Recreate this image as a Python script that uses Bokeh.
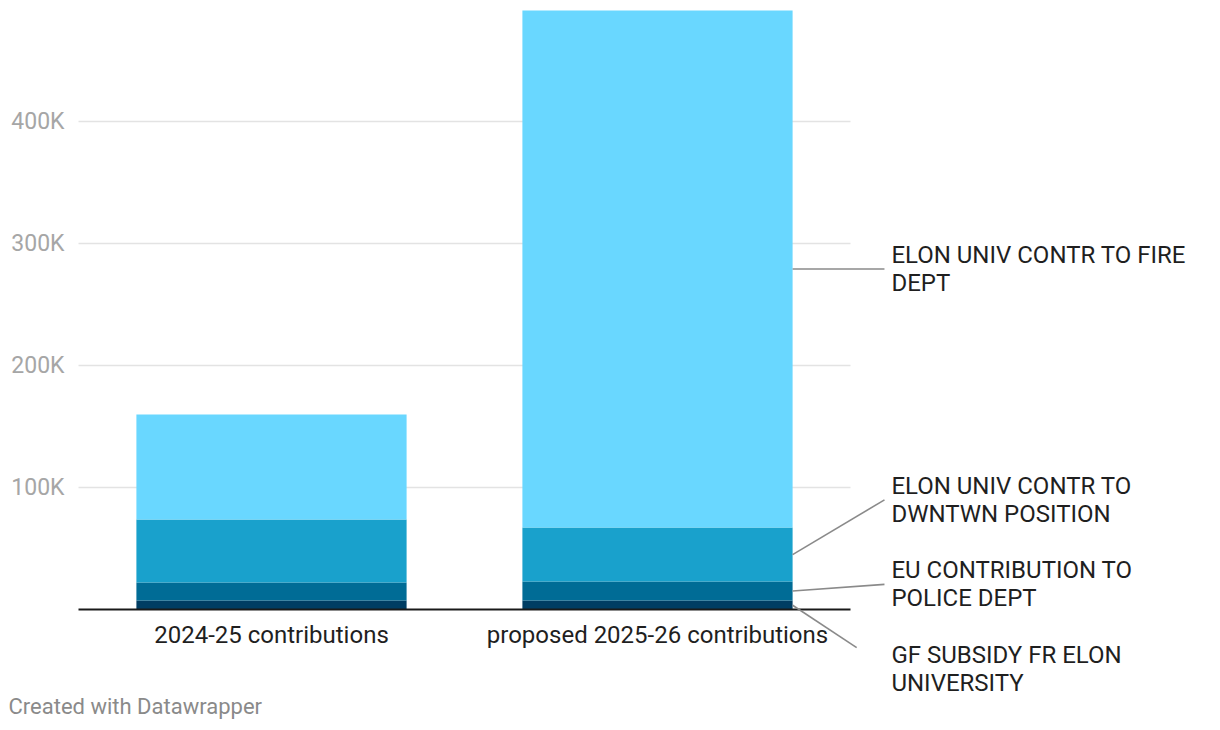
from bokeh.plotting import figure
from bokeh.models import Range1d, FixedTicker, Label, Arrow
from bokeh.embed import file_html
from bokeh.resources import INLINE

# ---- data ----
periods = ["2024-25 contributions", "proposed 2025-26 contributions"]
series = ["GF SUBSIDY FR ELON UNIVERSITY", "EU CONTRIBUTION TO POLICE DEPT",
          "ELON UNIV CONTR TO DWNTWN POSITION", "ELON UNIV CONTR TO FIRE DEPT"]
gf_subsidy = [7600, 7600]
eu_police = [14800, 15600]
dwntwn_position = [51600, 44200]
fire_dept = [86000, 423600]
label_text = ["GF SUBSIDY FR ELON\nUNIVERSITY", "EU CONTRIBUTION TO\nPOLICE DEPT",
              "ELON UNIV CONTR TO\nDWNTWN POSITION", "ELON UNIV CONTR TO FIRE\nDEPT"]
tick_values = [100000, 200000, 300000, 400000]
tick_labels = ["100K", "200K", "300K", "400K"]

colors = ["#003d63", "#006c96", "#19a1cc", "#69d7ff"]
FONT = "Roboto"

# ---- layout (pixels) ----
W, H = 1204, 722
LEFT_PX, TOP_PX = 78, 10          # plot area left edge / top of tallest bar
PX_PER_CAT = 386                  # width of one category band
PX_PER_100K = 122.07

totals = [a + b + c + d for a, b, c, d in zip(gf_subsidy, eu_police, dwntwn_position, fire_dept)]
ymax = max(totals)
u = 100000 / PX_PER_100K          # value per pixel
y_end = ymax + TOP_PX * u
y_start = ymax - (H - TOP_PX) * u
x_start = -LEFT_PX / PX_PER_CAT
x_end = (W - LEFT_PX) / PX_PER_CAT
zero_px = TOP_PX + ymax / u

xpos = [i + 0.5 for i in range(len(periods))]
data = {"x": xpos, "gf": gf_subsidy, "eu": eu_police, "dw": dwntwn_position, "fire": fire_dept}
keys = ["gf", "eu", "dw", "fire"]

p = figure(width=W, height=H, x_range=Range1d(x_start, x_end), y_range=Range1d(y_start, y_end),
           output_backend="svg", toolbar_location=None,
           min_border_left=0, min_border_right=0, min_border_top=0, min_border_bottom=0)
p.outline_line_color = None
p.background_fill_color = "white"
p.border_fill_color = "white"

BAR_W = 0.7
p.vbar_stack(keys, x="x", width=BAR_W, color=colors, source=data, line_color=None)

# y axis
p.yaxis.fixed_location = 0
p.yaxis.ticker = FixedTicker(ticks=tick_values)
p.yaxis.major_label_overrides = {v: l for v, l in zip(tick_values, tick_labels)}
p.yaxis.axis_line_color = None
p.yaxis.major_tick_line_color = None
p.yaxis.minor_tick_line_color = None
p.yaxis.major_label_text_font = FONT
p.yaxis.major_label_text_font_size = "23px"
p.yaxis.major_label_text_color = "#a6a6a6"
p.yaxis.major_label_standoff = 8

# x axis (categories)
p.xaxis.fixed_location = 0
p.xaxis.ticker = FixedTicker(ticks=xpos)
p.xaxis.major_label_overrides = {x: c for x, c in zip(xpos, periods)}
p.xaxis.bounds = (0, len(periods))
p.xaxis.axis_line_color = "#1a1a1a"
p.xaxis.axis_line_width = 2
p.xaxis.major_tick_line_color = None
p.xaxis.minor_tick_line_color = None
p.xaxis.major_label_text_font = FONT
p.xaxis.major_label_text_font_size = "24px"
p.xaxis.major_label_text_color = "#1f1f1f"
p.xaxis.major_label_standoff = 5

p.xgrid.grid_line_color = None
p.ygrid.grid_line_color = "#e3e3e3"
p.ygrid.grid_line_width = 1.5
p.ygrid.cross_bounds = (0, len(periods))

# direct labels with leader lines next to the last bar
last = len(periods) - 1
vals = [gf_subsidy[last], eu_police[last], dwntwn_position[last], fire_dept[last]]
mids = []
acc = 0
for v in vals:
    mids.append(acc + v / 2)
    acc += v
label_y = [-48100, 20900, 90100, mids[3]]
line_end_y = [-30900, 20900, 90100, mids[3]]
line_end_x = [2.016, 2.088, 2.088, 2.088]
label_x = 2.106
bar_edge = xpos[last] + BAR_W / 2
for i in range(4):
    p.add_layout(Arrow(end=None, x_start=bar_edge, y_start=mids[i],
                       x_end=line_end_x[i], y_end=line_end_y[i],
                       line_color="#8a8a8a", line_width=1.6))
    p.add_layout(Label(x=label_x, y=label_y[i], text=label_text[i],
                       text_font=FONT, text_font_size="24px", text_color="#1f1f1f",
                       text_baseline="middle", text_align="left", text_line_height=1.0))

p.add_layout(Label(x=x_start + 8 / PX_PER_CAT, y=-(706 - zero_px) * u, text="Created with Datawrapper",
                   text_font=FONT, text_font_size="22px", text_color="#8a8a8a",
                   text_baseline="middle"))

open("out.html", "w").write(file_html(p, INLINE))
